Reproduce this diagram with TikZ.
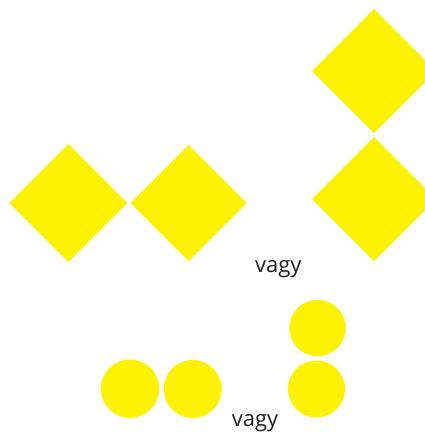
\documentclass[tikz,border=0pt]{standalone}
\usepackage{fontspec}
\setmainfont{Open Sans}
\definecolor{yel}{RGB}{255,242,0}
\definecolor{txt}{RGB}{35,31,32}
\begin{document}
\begin{tikzpicture}[x=1pt,y=-1pt,
  dia/.style={fill=yel,draw=none},
  lbl/.style={anchor=base,inner sep=0pt,text=txt,font=\fontsize{22}{24}\selectfont}]
\useasboundingbox (0,0) rectangle (425,432);
\begin{scope}
\clip (0,0) rectangle (425,432);
\fill[yel] (68.3,144) -- (127.3,203) -- (68.3,262) -- (9.3,203) -- cycle;
\fill[yel] (188.7,145) -- (246.7,203) -- (188.7,261) -- (130.7,203) -- cycle;
\fill[yel] (374,9) -- (436,71) -- (374,133) -- (312,71) -- cycle;
\fill[yel] (374,137) -- (436,199) -- (374,261) -- (312,199) -- cycle;
\fill[yel] (130,388.7) circle[radius=29.2];
\fill[yel] (192.7,389) circle[radius=29];
\fill[yel] (317.5,328) circle[radius=28.2];
\fill[yel] (316.5,389) circle[radius=28.5];
\end{scope}
\node[lbl] (v1) at (278.3,272.3) {vagy};
\node[lbl] (v2) at (255,426.3) {vagy};
\end{tikzpicture}
\end{document}
